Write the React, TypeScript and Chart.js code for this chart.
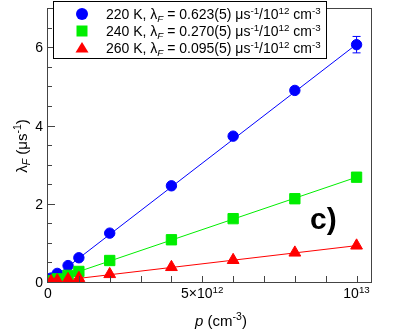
import React, { useEffect, useRef } from "react";
import { Chart, registerables } from "chart.js";

Chart.register(...registerables);

// ---- data ----
const pValues = [0.1e12, 0.3e12, 0.65e12, 1.0e12, 2e12, 4e12, 6e12, 8e12, 1e13];
const lambda220 = [0.1, 0.22, 0.42, 0.62, 1.25, 2.46, 3.73, 4.9, 6.07];
const err220 = [0.01, 0.01, 0.01, 0.01, 0.02, 0.04, 0.06, 0.08, 0.21];
const lambda240 = [0.03, 0.08, 0.17, 0.27, 0.55, 1.08, 1.62, 2.13, 2.68];
const lambda260 = [0.02, 0.04, 0.07, 0.1, 0.2, 0.38, 0.56, 0.75, 0.93];
const fitX = [0, 1e13];
const fit220 = [0, 6.08];
const fit240 = [0, 2.68];
const fit260 = [0, 0.93];
const yTickLabels = [0, 2, 4, 6];
const seriesNames = ["220 K", "240 K", "260 K"];
const slopeTexts = ["0.623(5)", "0.270(5)", "0.095(5)"];

const BLUE = "#0000ff";
const GREEN = "#00ee00";
const RED = "#ff0000";
const FONT = "'Liberation Sans', Arial, Helvetica, sans-serif";

type Run = { t: string; sup?: boolean; sub?: boolean; it?: boolean; bold?: boolean };

function runFont(r: Run, size: number) {
  const s = r.sup || r.sub ? size * 0.7 : size;
  return `${r.it ? "italic " : ""}${r.bold ? "bold " : ""}${s}px ${FONT}`;
}

function richWidth(ctx: CanvasRenderingContext2D, runs: Run[], size: number) {
  let w = 0;
  for (const r of runs) {
    ctx.font = runFont(r, size);
    w += ctx.measureText(r.t).width;
  }
  return w;
}

function drawRich(
  ctx: CanvasRenderingContext2D,
  runs: Run[],
  x: number,
  y: number,
  size: number,
  align: "left" | "center" | "right" = "left"
) {
  const w = richWidth(ctx, runs, size);
  let cx = x;
  if (align === "center") cx = x - w / 2;
  if (align === "right") cx = x - w;
  ctx.textAlign = "left";
  ctx.textBaseline = "alphabetic";
  for (const r of runs) {
    ctx.font = runFont(r, size);
    let dy = 0;
    if (r.sup) dy = -size * 0.38;
    if (r.sub) dy = size * 0.2;
    ctx.fillText(r.t, cx, y + dy);
    cx += ctx.measureText(r.t).width;
  }
}

const decorPlugin = {
  id: "decor",
  beforeDatasetsDraw(chart: any) {
    const ctx: CanvasRenderingContext2D = chart.ctx;
    const xs = chart.scales.x;
    const ys = chart.scales.y;
    ctx.save();
    ctx.strokeStyle = BLUE;
    ctx.lineWidth = 1;
    for (let i = 0; i < pValues.length; i++) {
      const px = xs.getPixelForValue(pValues[i]);
      const top = ys.getPixelForValue(lambda220[i] + err220[i]);
      const bot = ys.getPixelForValue(lambda220[i] - err220[i]);
      ctx.beginPath();
      ctx.moveTo(px, top);
      ctx.lineTo(px, bot);
      ctx.moveTo(px - 4, top);
      ctx.lineTo(px + 4, top);
      ctx.moveTo(px - 4, bot);
      ctx.lineTo(px + 4, bot);
      ctx.stroke();
    }
    ctx.restore();
  },
  afterDraw(chart: any) {
    const ctx: CanvasRenderingContext2D = chart.ctx;
    const a = chart.chartArea;
    const xs = chart.scales.x;
    const ys = chart.scales.y;
    ctx.save();
    // frame
    ctx.strokeStyle = "#444";
    ctx.lineWidth = 1;
    ctx.strokeRect(Math.round(a.left) - 0.5, Math.round(a.top) + 0.5, Math.round(a.right - a.left), Math.round(a.bottom - a.top));
    // y ticks
    ctx.beginPath();
    for (let v = 0.5; v < 7; v += 0.5) {
      const py = Math.round(ys.getPixelForValue(v)) + 0.5;
      const major = yTickLabels.includes(v);
      ctx.moveTo(a.left, py);
      ctx.lineTo(a.left + (major ? 7 : 4), py);
    }
    // x ticks
    for (let k = 1; k <= 10; k++) {
      const px = Math.round(xs.getPixelForValue(k * 1e12)) + 0.5;
      ctx.moveTo(px, a.bottom);
      ctx.lineTo(px, a.bottom - 6);
    }
    ctx.stroke();
    ctx.fillStyle = "#000";
    // y tick labels
    for (const v of yTickLabels) {
      const py = ys.getPixelForValue(v);
      drawRich(ctx, [{ t: String(v) }], a.left - 5, py + 5, 14, "right");
    }
    // x tick labels
    const bx = a.bottom + 16;
    drawRich(ctx, [{ t: "0" }], xs.getPixelForValue(0), bx, 14, "center");
    drawRich(ctx, [{ t: "5×10" }, { t: "12", sup: true }], xs.getPixelForValue(5e12), bx, 14, "center");
    drawRich(ctx, [{ t: "10" }, { t: "13", sup: true }], xs.getPixelForValue(1e13), bx, 14, "center");
    // x title
    drawRich(ctx, [{ t: "p", it: true }, { t: " (cm" }, { t: "-3", sup: true }, { t: ")" }], 221, 326, 15, "center");
    // y title
    ctx.save();
    ctx.translate(27, 146);
    ctx.rotate(-Math.PI / 2);
    drawRich(ctx, [{ t: "λ" }, { t: "F", sub: true, it: true }, { t: " (μs" }, { t: "-1", sup: true }, { t: ")" }], 0, 0, 15, "center");
    ctx.restore();
    // panel label
    drawRich(ctx, [{ t: "c)", bold: true }], 310, 229, 30, "left");
    // legend box
    ctx.fillStyle = "#fff";
    ctx.fillRect(53.5, 1.5, 273, 57);
    ctx.strokeStyle = "#000";
    ctx.strokeRect(53.5, 1.5, 273, 57);
    const colors = [BLUE, GREEN, RED];
    const rowsY = [14, 31, 48];
    for (let i = 0; i < 3; i++) {
      const cy = rowsY[i];
      ctx.fillStyle = colors[i];
      ctx.beginPath();
      if (i === 0) {
        ctx.arc(82, cy, 6, 0, Math.PI * 2);
      } else if (i === 1) {
        ctx.rect(76.5, cy - 5.5, 11, 11);
      } else {
        ctx.moveTo(82, cy - 6);
        ctx.lineTo(88.5, cy + 4.5);
        ctx.lineTo(75.5, cy + 4.5);
        ctx.closePath();
      }
      ctx.fill();
      ctx.fillStyle = "#000";
      drawRich(
        ctx,
        [
          { t: seriesNames[i] + ", λ" },
          { t: "F", sub: true, it: true },
          { t: " = " + slopeTexts[i] + " μs" },
          { t: "-1", sup: true },
          { t: "/10" },
          { t: "12", sup: true },
          { t: " cm" },
          { t: "-3", sup: true },
        ],
        106,
        cy + 5,
        14,
        "left"
      );
    }
    ctx.restore();
  },
};

function pts(xv: number[], yv: number[]) {
  return xv.map((x, i) => ({ x, y: yv[i] }));
}

export default function App() {
  const ref = useRef<HTMLCanvasElement>(null);
  useEffect(() => {
    if (!ref.current) return;
    const lineDs = (data: number[], color: string) => ({
      type: "line" as const,
      data: pts(fitX, data),
      borderColor: color,
      borderWidth: 1,
      pointRadius: 0,
      showLine: true,
      fill: false,
      order: 10,
    });
    const chart = new Chart(ref.current, {
      type: "scatter",
      data: {
        datasets: [
          lineDs(fit220, BLUE),
          lineDs(fit240, GREEN),
          lineDs(fit260, RED),
          {
            data: pts(pValues, lambda220),
            backgroundColor: BLUE,
            borderColor: BLUE,
            borderWidth: 1,
            pointRadius: 5.2,
            pointStyle: "circle",
            order: 3,
          },
          {
            data: pts(pValues, lambda240),
            backgroundColor: GREEN,
            borderColor: GREEN,
            borderWidth: 1,
            pointRadius: 7.3,
            pointStyle: "rect",
            order: 2,
          },
          {
            data: pts(pValues, lambda260),
            backgroundColor: RED,
            borderColor: RED,
            borderWidth: 1,
            pointRadius: 6.8,
            pointStyle: "triangle",
            order: 1,
          },
        ] as any,
      },
      options: {
        animation: false,
        responsive: false,
        maintainAspectRatio: false,
        layout: { padding: { left: 48, right: 35, top: 5, bottom: 52 } },
        plugins: { legend: { display: false }, tooltip: { enabled: false } },
        scales: {
          x: { type: "linear", min: 0, max: 1.05e13, display: false },
          y: { type: "linear", min: 0, max: 7, display: false },
        },
      },
      plugins: [decorPlugin],
    });
    return () => chart.destroy();
  }, []);
  return (
    <div style={{ position: "fixed", left: 0, top: 0, width: 407, height: 334, background: "#fff" }}>
      <canvas ref={ref} width={407} height={334} style={{ display: "block" }} />
    </div>
  );
}
